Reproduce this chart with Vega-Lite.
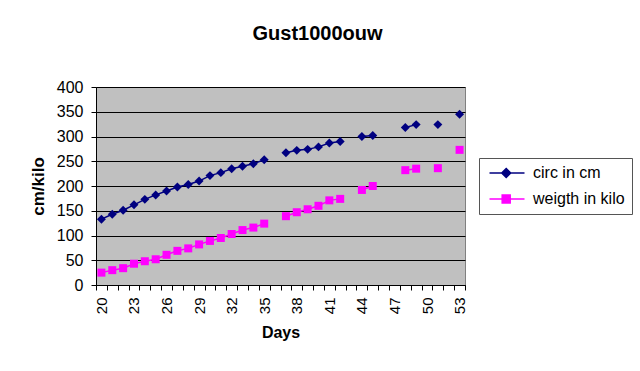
{
  "$schema": "https://vega.github.io/schema/vega-lite/v6.json",
  "width": 369,
  "height": 198,
  "autosize": {"type": "none"},
  "padding": {"left": 96, "top": 87, "right": 175, "bottom": 86},
  "background": "white",
  "title": {
    "text": "Gust1000ouw",
    "font": "Liberation Sans",
    "fontSize": 20,
    "fontWeight": "bold",
    "color": "black",
    "anchor": "middle",
    "dx": 37,
    "baseline": "alphabetic",
    "offset": 19
  },
  "data": {
    "values": [
      {"day": 20, "series": "circ in cm", "value": 133},
      {"day": 21, "series": "circ in cm", "value": 143},
      {"day": 22, "series": "circ in cm", "value": 151},
      {"day": 23, "series": "circ in cm", "value": 162},
      {"day": 24, "series": "circ in cm", "value": 173},
      {"day": 25, "series": "circ in cm", "value": 182},
      {"day": 26, "series": "circ in cm", "value": 190},
      {"day": 27, "series": "circ in cm", "value": 198},
      {"day": 28, "series": "circ in cm", "value": 203},
      {"day": 29, "series": "circ in cm", "value": 210},
      {"day": 30, "series": "circ in cm", "value": 221},
      {"day": 31, "series": "circ in cm", "value": 227},
      {"day": 32, "series": "circ in cm", "value": 235},
      {"day": 33, "series": "circ in cm", "value": 240},
      {"day": 34, "series": "circ in cm", "value": 245},
      {"day": 35, "series": "circ in cm", "value": 253},
      {"day": 36, "series": "circ in cm", "value": null},
      {"day": 37, "series": "circ in cm", "value": 267},
      {"day": 38, "series": "circ in cm", "value": 272},
      {"day": 39, "series": "circ in cm", "value": 274},
      {"day": 40, "series": "circ in cm", "value": 279},
      {"day": 41, "series": "circ in cm", "value": 287},
      {"day": 42, "series": "circ in cm", "value": 290},
      {"day": 43, "series": "circ in cm", "value": null},
      {"day": 44, "series": "circ in cm", "value": 300},
      {"day": 45, "series": "circ in cm", "value": 302},
      {"day": 46, "series": "circ in cm", "value": null},
      {"day": 47, "series": "circ in cm", "value": null},
      {"day": 48, "series": "circ in cm", "value": 318},
      {"day": 49, "series": "circ in cm", "value": 324},
      {"day": 50, "series": "circ in cm", "value": null},
      {"day": 51, "series": "circ in cm", "value": 324},
      {"day": 52, "series": "circ in cm", "value": null},
      {"day": 53, "series": "circ in cm", "value": 345},
      {"day": 20, "series": "weigth in kilo", "value": 25},
      {"day": 21, "series": "weigth in kilo", "value": 30},
      {"day": 22, "series": "weigth in kilo", "value": 34},
      {"day": 23, "series": "weigth in kilo", "value": 43},
      {"day": 24, "series": "weigth in kilo", "value": 48},
      {"day": 25, "series": "weigth in kilo", "value": 52},
      {"day": 26, "series": "weigth in kilo", "value": 61},
      {"day": 27, "series": "weigth in kilo", "value": 69},
      {"day": 28, "series": "weigth in kilo", "value": 74},
      {"day": 29, "series": "weigth in kilo", "value": 82},
      {"day": 30, "series": "weigth in kilo", "value": 89},
      {"day": 31, "series": "weigth in kilo", "value": 95},
      {"day": 32, "series": "weigth in kilo", "value": 103},
      {"day": 33, "series": "weigth in kilo", "value": 111},
      {"day": 34, "series": "weigth in kilo", "value": 116},
      {"day": 35, "series": "weigth in kilo", "value": 124},
      {"day": 36, "series": "weigth in kilo", "value": null},
      {"day": 37, "series": "weigth in kilo", "value": 139},
      {"day": 38, "series": "weigth in kilo", "value": 147},
      {"day": 39, "series": "weigth in kilo", "value": 153},
      {"day": 40, "series": "weigth in kilo", "value": 160},
      {"day": 41, "series": "weigth in kilo", "value": 171},
      {"day": 42, "series": "weigth in kilo", "value": 174},
      {"day": 43, "series": "weigth in kilo", "value": null},
      {"day": 44, "series": "weigth in kilo", "value": 192},
      {"day": 45, "series": "weigth in kilo", "value": 200},
      {"day": 46, "series": "weigth in kilo", "value": null},
      {"day": 47, "series": "weigth in kilo", "value": null},
      {"day": 48, "series": "weigth in kilo", "value": 232},
      {"day": 49, "series": "weigth in kilo", "value": 235},
      {"day": 50, "series": "weigth in kilo", "value": null},
      {"day": 51, "series": "weigth in kilo", "value": 236},
      {"day": 52, "series": "weigth in kilo", "value": null},
      {"day": 53, "series": "weigth in kilo", "value": 273}
    ]
  },
  "encoding": {
    "x": {
      "field": "day",
      "type": "ordinal",
      "scale": {
        "type": "band",
        "paddingInner": 0,
        "paddingOuter": 0,
        "domain": [20,21,22,23,24,25,26,27,28,29,30,31,32,33,34,35,36,37,38,39,40,41,42,43,44,45,46,47,48,49,50,51,52,53]
      },
      "axis": {
        "title": "Days",
        "titleFont": "Liberation Sans",
        "titleFontSize": 16,
        "titleFontWeight": "bold",
        "titleColor": "black",
        "titlePadding": 11,
        "labelFont": "Liberation Sans",
        "labelFontSize": 15,
        "labelColor": "black",
        "labelAngle": 270,
        "labelPadding": 7,
        "labelExpr": "(datum.value - 20) % 3 === 0 ? datum.label : ''",
        "labelOverlap": false,
        "tickBand": "extent",
        "tickSize": 5,
        "tickColor": "black",
        "domainColor": "black",
        "grid": false
      }
    },
    "y": {
      "field": "value",
      "type": "quantitative",
      "scale": {"domain": [0, 400], "nice": false},
      "axis": {
        "title": "cm/kilo",
        "titleFont": "Liberation Sans",
        "titleFontSize": 17,
        "titleFontWeight": "bold",
        "titleColor": "black",
        "titlePadding": 9,
        "labelFont": "Liberation Sans",
        "labelFontSize": 16,
        "labelColor": "black",
        "labelPadding": 8,
        "values": [0, 50, 100, 150, 200, 250, 300, 350, 400],
        "tickSize": 5,
        "tickColor": "black",
        "domainColor": "black",
        "grid": true,
        "gridColor": "black",
        "gridWidth": 1
      }
    },
    "color": {
      "field": "series",
      "type": "nominal",
      "scale": {"domain": ["circ in cm", "weigth in kilo"], "range": ["#000080", "#FF00FF"]},
      "legend": {
        "title": null,
        "orient": "none",
        "legendX": 383,
        "legendY": 71,
        "padding": 7,
        "strokeColor": "#555555",
        "fillColor": "white",
        "labelFont": "Liberation Sans",
        "labelFontSize": 16,
        "labelColor": "black",
        "labelOffset": 31,
        "rowPadding": 10,
        "symbolSize": 81,
        "symbolStrokeWidth": 1.5,
        "encode": {
          "symbols": {
            "update": {
              "shape": {"signal": "datum.value === 'circ in cm' ? 'M-1,0H6.78M2.71,-1L3.71,0L2.71,1L1.71,0Z' : 'M-1,0H6.78M1.82,-0.89H3.6V0.89H1.82Z'"},
              "size": {"value": 81},
              "strokeWidth": {"value": 1.5}
            }
          }
        }
      }
    }
  },
  "layer": [
    {
      "mark": {"type": "line", "strokeWidth": 1.5, "invalid": "break-paths-filter-domains"}
    },
    {
      "transform": [{"filter": "datum.value != null && datum.series === 'circ in cm'"}],
      "mark": {"type": "point", "filled": true, "opacity": 1, "shape": "diamond", "size": 80}
    },
    {
      "transform": [{"filter": "datum.value != null && datum.series === 'weigth in kilo'"}],
      "mark": {"type": "point", "filled": true, "opacity": 1, "shape": "square", "size": 64}
    }
  ],
  "config": {
    "view": {"fill": "#C0C0C0", "stroke": "#808080", "strokeWidth": 1},
    "font": "Liberation Sans"
  }
}
